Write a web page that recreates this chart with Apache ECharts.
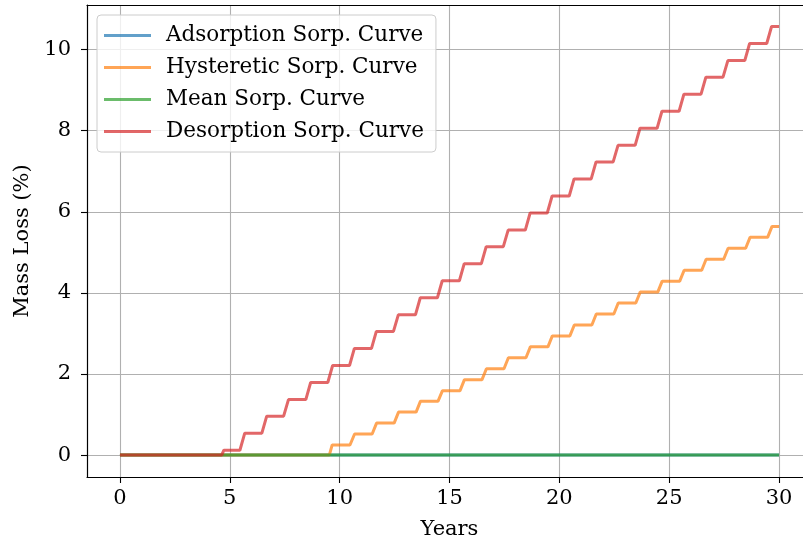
<!DOCTYPE html>
<html>
<head>
<meta charset="utf-8">
<script src="https://cdn.jsdelivr.net/npm/echarts@6/dist/echarts.min.js"></script>
<style>
  html, body { margin: 0; padding: 0; background: #fff; }
  #chart { width: 803px; height: 542px; }
</style>
</head>
<body>
<div id="chart"></div>
<script>
// values
var seriesNames = ['Adsorption Sorp. Curve', 'Hysteretic Sorp. Curve', 'Mean Sorp. Curve', 'Desorption Sorp. Curve'];
var yTicks = [0, 2, 4, 6, 8, 10];
var xTicks = [0, 5, 10, 15, 20, 25, 30];

// desorption curve: year each step starts rising, year it reaches the new level, level
var desorpRise = [4.63, 5.46, 6.46, 7.45, 8.46, 9.46, 10.45, 11.45, 12.45, 13.45, 14.45, 15.45, 16.45,
  17.45, 18.45, 19.45, 20.45, 21.45, 22.45, 23.45, 24.45, 25.45, 26.45, 27.45, 28.44, 29.44];
var desorpTop = [4.73, 5.68, 6.68, 7.67, 8.68, 9.68, 10.67, 11.67, 12.67, 13.67, 14.67, 15.67, 16.67,
  17.67, 18.67, 19.67, 20.67, 21.67, 22.67, 23.67, 24.67, 25.67, 26.67, 27.67, 28.66, 29.66];
var desorpLevel = [0.12, 0.54, 0.96, 1.37, 1.79, 2.21, 2.63, 3.05, 3.46, 3.88, 4.30, 4.72, 5.14,
  5.55, 5.97, 6.39, 6.81, 7.23, 7.64, 8.06, 8.48, 8.90, 9.32, 9.73, 10.15, 10.57];

// hysteretic curve
var hystRise = [9.53, 10.47, 11.48, 12.48, 13.48, 14.48, 15.48, 16.48, 17.48, 18.48, 19.48,
  20.48, 21.48, 22.48, 23.48, 24.48, 25.48, 26.48, 27.48, 28.48, 29.48];
var hystTop = [9.66, 10.68, 11.68, 12.68, 13.68, 14.68, 15.68, 16.68, 17.68, 18.68, 19.68,
  20.68, 21.68, 22.68, 23.68, 24.68, 25.68, 26.68, 27.68, 28.68, 29.68];
var hystLevel = [0.25, 0.52, 0.79, 1.06, 1.33, 1.59, 1.86, 2.13, 2.40, 2.67, 2.94,
  3.21, 3.48, 3.75, 4.02, 4.29, 4.56, 4.83, 5.10, 5.37, 5.64];

// adsorption and mean curves stay at zero
var adsorp = [[0, 0], [30, 0]];
var mean = [[0, 0], [30, 0]];

function steps(rise, top, level) {
  var pts = [[0, 0]];
  var prev = 0;
  for (var i = 0; i < rise.length; i++) {
    pts.push([rise[i], prev]);
    pts.push([top[i], level[i]]);
    prev = level[i];
  }
  pts.push([30, prev]);
  return pts;
}

var colors = ['#1f77b4', '#ff7f0e', '#2ca02c', '#d62728'];
var font = 'DejaVu Serif';
var fs = 21;

var chart = echarts.init(document.getElementById('chart'));

function line(name, data, color) {
  return {
    name: name,
    type: 'line',
    data: data,
    showSymbol: false,
    symbol: 'none',
    color: color,
    lineStyle: { color: color, width: 3, opacity: 0.7 },
    emphasis: { disabled: true }
  };
}

var option = {
  animation: false,
  textStyle: { fontFamily: font },
  // right edge of the axes box lies just past the picture, as in the original
  grid: {
    left: 87, right: -9, top: 5, bottom: 65,
    outerBoundsMode: 'none', containLabel: false, show: false
  },
  legend: {
    left: 97, top: 15,
    orient: 'vertical',
    data: seriesNames.map(function (n, i) {
      return { name: n, icon: 'rect', itemStyle: { color: colors[i], opacity: 0.7 } };
    }),
    itemWidth: 47, itemHeight: 3, itemGap: 9,
    padding: [9, 12, 9, 7],
    backgroundColor: 'rgba(255,255,255,0.8)',
    borderColor: '#cccccc', borderWidth: 1, borderRadius: 4,
    textStyle: { fontFamily: font, fontSize: 21.5, color: '#000', lineHeight: 23, padding: [0, 0, 0, 10] }
  },
  xAxis: [{
    type: 'value',
    min: -1.5, max: 31.5,
    name: 'Years', nameLocation: 'middle', nameGap: 42,
    nameTextStyle: { fontFamily: font, fontSize: fs, color: '#000' },
    axisLine: { show: true, onZero: false, lineStyle: { color: '#000', width: 1.2 } },
    axisTick: { show: true, length: 6, customValues: xTicks, lineStyle: { color: '#000', width: 1.1 } },
    axisLabel: { customValues: xTicks, margin: 11, fontFamily: font, fontSize: fs, color: '#000' },
    splitLine: { show: true, lineStyle: { color: '#b0b0b0', width: 1.1 } }
  }, {
    // top spine only
    type: 'value', position: 'top',
    min: -1.5, max: 31.5,
    axisLine: { show: true, onZero: false, lineStyle: { color: '#000', width: 1.2 } },
    axisTick: { show: false }, axisLabel: { show: false }, splitLine: { show: false }
  }],
  yAxis: {
    type: 'value',
    min: -0.54, max: 11.1,
    name: 'Mass Loss (%)', nameLocation: 'middle', nameGap: 52,
    nameTextStyle: { fontFamily: font, fontSize: fs, color: '#000' },
    axisLine: { show: true, onZero: false, lineStyle: { color: '#000', width: 1.2 } },
    axisTick: { show: true, length: 6, customValues: yTicks, lineStyle: { color: '#000', width: 1.1 } },
    axisLabel: { customValues: yTicks, margin: 16, fontFamily: font, fontSize: fs, color: '#000' },
    splitLine: { show: true, lineStyle: { color: '#b0b0b0', width: 1.1 } }
  },
  series: [
    line(seriesNames[0], adsorp, colors[0]),
    line(seriesNames[1], steps(hystRise, hystTop, hystLevel), colors[1]),
    line(seriesNames[2], mean, colors[2]),
    line(seriesNames[3], steps(desorpRise, desorpTop, desorpLevel), colors[3])
  ]
};

chart.setOption(option);
</script>
</body>
</html>
